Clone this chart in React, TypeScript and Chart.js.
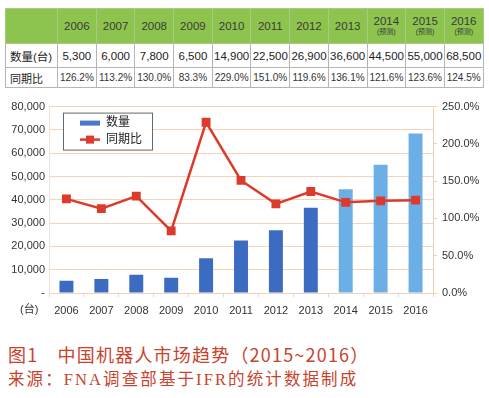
import React, { useEffect, useRef } from "react";
import { Chart, registerables } from "chart.js";

Chart.register(...registerables);

const years = ["2006", "2007", "2008", "2009", "2010", "2011", "2012", "2013", "2014", "2015", "2016"];
const forecastFlags = [false, false, false, false, false, false, false, false, true, true, true];
const quantity = [5300, 6000, 7800, 6500, 14900, 22500, 26900, 36600, 44500, 55000, 68500];
const yoy = [126.2, 113.2, 130.0, 83.3, 229.0, 151.0, 119.6, 136.1, 121.6, 123.6, 124.5];
const quantityLabels = ["5,300", "6,000", "7,800", "6,500", "14,900", "22,500", "26,900", "36,600", "44,500", "55,000", "68,500"];
const yoyLabels = ["126.2%", "113.2%", "130.0%", "83.3%", "229.0%", "151.0%", "119.6%", "136.1%", "121.6%", "123.6%", "124.5%"];

const DARK = "#3c6cc2";
const LIGHT = "#6cafe6";
const RED = "#dc3b2c";
const FONT = "'Liberation Sans', 'Noto Sans CJK SC', sans-serif";

const legendPlugin = {
  id: "innerLegend",
  afterDraw(chart: any) {
    const ctx = chart.ctx;
    const a = chart.chartArea;
    const x = a.left + 14;
    const y = a.top + 6;
    ctx.save();
    ctx.fillStyle = "#ffffff";
    ctx.fillRect(x, y, 89, 37);
    ctx.strokeStyle = "#5d6b6b";
    ctx.lineWidth = 1;
    ctx.strokeRect(x + 0.5, y + 0.5, 89, 37);
    ctx.fillStyle = "#4a78c8";
    ctx.fillRect(x + 17, y + 8, 20, 5);
    ctx.fillStyle = "#222";
    ctx.font = "12px " + FONT;
    ctx.textBaseline = "middle";
    ctx.fillText("数量", x + 43, y + 10.5);
    ctx.strokeStyle = RED;
    ctx.lineWidth = 2.5;
    ctx.beginPath();
    ctx.moveTo(x + 17, y + 27);
    ctx.lineTo(x + 37, y + 27);
    ctx.stroke();
    ctx.fillStyle = RED;
    ctx.fillRect(x + 23, y + 23, 8, 8);
    ctx.fillStyle = "#222";
    ctx.fillText("同期比", x + 43, y + 27);
    ctx.restore();
  },
};

function ChartBox() {
  const ref = useRef<HTMLCanvasElement | null>(null);
  useEffect(() => {
    if (!ref.current) return;
    const chart = new Chart(ref.current, {
      type: "bar",
      data: {
        labels: years,
        datasets: [
          {
            type: "line",
            label: "同期比",
            data: yoy,
            yAxisID: "y1",
            borderColor: RED,
            borderWidth: 2.5,
            backgroundColor: RED,
            pointStyle: "rect",
            pointRadius: 4.5,
            pointBackgroundColor: RED,
            pointBorderColor: RED,
            tension: 0,
            order: 0,
          } as any,
          {
            type: "bar",
            label: "数量",
            data: quantity,
            yAxisID: "y",
            backgroundColor: forecastFlags.map((f) => (f ? LIGHT : DARK)),
            barPercentage: 0.4,
            categoryPercentage: 1,
            order: 1,
          },
        ],
      },
      options: {
        animation: false,
        responsive: false,
        devicePixelRatio: 1,
        layout: { padding: { top: 10, left: 0, right: 0, bottom: 0 } },
        plugins: { legend: { display: false }, tooltip: { enabled: false } },
        scales: {
          x: {
            grid: { offset: true, drawOnChartArea: false, drawTicks: true, tickLength: 4, color: "#e2d6cc" },
            border: { display: true, color: "#efd2bb" },
            ticks: { color: "#333", font: { size: 11, family: FONT }, padding: 7, maxRotation: 0 },
            afterFit(scale: any) {
              scale.height = 32;
            },
          },
          y: {
            position: "left",
            min: 0,
            max: 80000,
            ticks: {
              stepSize: 10000,
              color: "#333",
              font: { size: 11, family: FONT },
              padding: 4,
              callback: (v: any) => (v === 0 ? "-" : Number(v).toLocaleString("en-US")),
            },
            grid: { color: "#f6d3b5", drawTicks: false },
            border: { display: true, color: "#eee2d8" },
            afterFit(scale: any) {
              scale.width = 49;
            },
          },
          y1: {
            position: "right",
            min: 0,
            max: 250,
            ticks: {
              stepSize: 50,
              color: "#333",
              font: { size: 11, family: FONT },
              padding: 5,
              callback: (v: any) => Number(v).toFixed(1) + "%",
            },
            grid: { drawOnChartArea: false, drawTicks: true, tickLength: 4, color: "#efcfb4" },
            border: { display: true, color: "#efcfb4" },
            afterFit(scale: any) {
              scale.width = 56;
            },
          },
        },
      },
      plugins: [legendPlugin],
    });
    return () => chart.destroy();
  }, []);
  return <canvas ref={ref} width={489} height={230} style={{ position: "absolute", left: 0, top: 95 }} />;
}

const cellBase: React.CSSProperties = {
  border: "1px solid #b5b5b5",
  textAlign: "center",
  padding: 0,
  whiteSpace: "nowrap",
};

export default function App() {
  return (
    <div style={{ position: "absolute", left: 0, top: 0, width: 489, height: 398, background: "#fff", fontFamily: FONT, overflow: "hidden" }}>
      <table
        style={{
          position: "absolute",
          left: 5,
          top: 8,
          width: 478,
          borderCollapse: "collapse",
          tableLayout: "fixed",
          fontSize: 11,
          color: "#333",
        }}
      >
        <colgroup>
          <col style={{ width: 52 }} />
          {years.map((y) => (
            <col key={y} style={{ width: 38.7 }} />
          ))}
        </colgroup>
        <tbody>
          <tr style={{ height: 35, background: "#8dc44e" }}>
            <td style={{ ...cellBase, borderColor: "#a7c98a" }}></td>
            {years.map((y, i) => (
              <td key={y} style={{ ...cellBase, borderColor: "#a7c98a", lineHeight: "11px", color: "#3a3a3a", fontSize: 11.5 }}>
                <div>{y}</div>
                {forecastFlags[i] ? <div style={{ fontSize: 7, lineHeight: "9px" }}>(预测)</div> : null}
              </td>
            ))}
          </tr>
          <tr style={{ height: 24 }}>
            <td style={{ ...cellBase, fontSize: 11.5, textAlign: "left", paddingLeft: 4, color: "#222" }}>数量(台)</td>
            {quantityLabels.map((q, i) => (
              <td key={i} style={{ ...cellBase, fontSize: 11.5, color: "#222" }}>{q}</td>
            ))}
          </tr>
          <tr style={{ height: 20 }}>
            <td style={{ ...cellBase, fontSize: 11, textAlign: "left", paddingLeft: 4, color: "#222" }}>同期比</td>
            {yoyLabels.map((q, i) => (
              <td key={i} style={{ ...cellBase, fontSize: 10, color: "#333" }}>{q}</td>
            ))}
          </tr>
        </tbody>
      </table>
      <ChartBox />
      <div style={{ position: "absolute", left: 20, top: 300, fontSize: 11, color: "#333" }}>(台)</div>
      <div style={{ position: "absolute", left: 8, top: 342, fontSize: 18, color: "#c9432c", fontFamily: "'Noto Sans CJK SC', sans-serif", whiteSpace: "nowrap", lineHeight: "24px", letterSpacing: 1.2 }}>
        图1　中国机器人市场趋势（2015~2016）
      </div>
      <div style={{ position: "absolute", left: 8, top: 369, fontSize: 16.5, color: "#c9432c", fontFamily: "'Liberation Serif', 'Noto Sans CJK SC', serif", whiteSpace: "nowrap", lineHeight: "22px", letterSpacing: 2.1 }}>
        来源：FNA调查部基于IFR的统计数据制成
      </div>
    </div>
  );
}
